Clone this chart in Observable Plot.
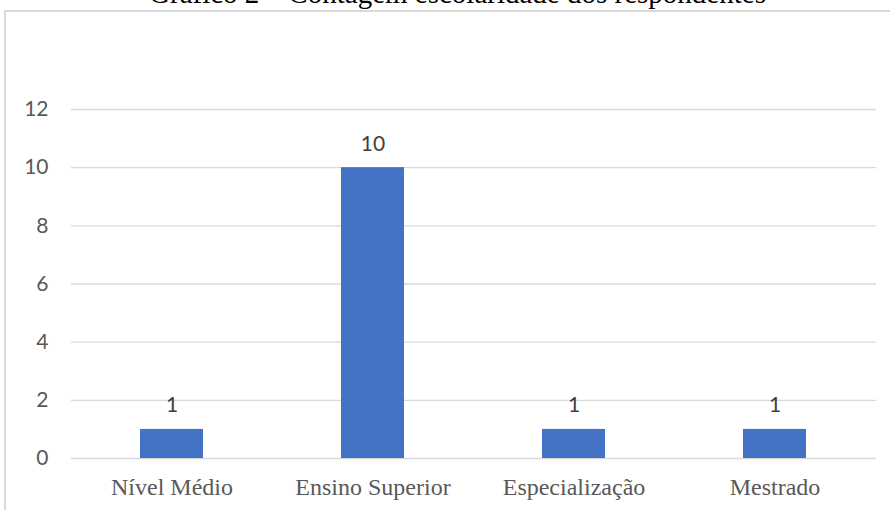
<!DOCTYPE html>
<html>
<head>
<meta charset="utf-8">
<script src="https://cdn.jsdelivr.net/npm/d3@7"></script>
<script src="https://cdn.jsdelivr.net/npm/@observablehq/plot@0.6"></script>
<style>
  html, body { margin: 0; padding: 0; background: #fff; }
  #wrap { position: relative; width: 890px; height: 510px; overflow: hidden; }
  #title {
    position: absolute; left: 0; width: 915px; top: -21px;
    text-align: center; font-family: "Liberation Serif", "Times New Roman", serif;
    font-size: 29px; color: #000; white-space: nowrap; line-height: 29px;
  }
  #box {
    position: absolute; left: 4px; top: 10px; width: 1000px; height: 600px;
    border-left: 2px solid #d9d9d9; border-top: 2px solid #d9d9d9;
  }
  #chart { position: absolute; left: 0; top: 0; }
</style>
</head>
<body>
<div id="wrap">
  <div id="title">Gráfico 2 – Contagem escolaridade dos respondentes</div>
  <div id="box"></div>
  <div id="chart"></div>
</div>
<script>
// Escolaridade dos respondentes (contagem)
const categories = ["Nível Médio", "Ensino Superior", "Especialização", "Mestrado"];
const counts = [1, 10, 1, 1];
const yTicks = [0, 2, 4, 6, 8, 10, 12];

const data = categories.map((c, i) => ({ categoria: c, total: counts[i] }));

const chart = Plot.plot({
  width: 890,
  height: 510,
  marginLeft: 71,
  marginRight: 14,
  marginTop: 109,
  marginBottom: 52,
  style: { background: "transparent", overflow: "visible" },
  x: { domain: categories, paddingInner: 0.686, paddingOuter: 0.343, label: null },
  y: { domain: [0, 12], ticks: yTicks, label: null },
  marks: [
    Plot.gridY(yTicks, { stroke: "#d9d9d9", strokeOpacity: 1, strokeWidth: 1.4 }),
    Plot.axisY({
      ticks: yTicks, tickSize: 0, tickPadding: 23, label: null,
      fontFamily: "Lato, Calibri, sans-serif", fontSize: 21, fill: "#595959"
    }),
    Plot.axisX({
      tickSize: 0, tickPadding: 19, label: null,
      fontFamily: "'Liberation Serif', 'Times New Roman', serif", fontSize: 24, fill: "#595959"
    }),
    Plot.barY(data, { x: "categoria", y: "total", fill: "#4472C4" }),
    Plot.text(data, {
      x: "categoria", y: "total", text: (d) => String(d.total),
      lineAnchor: "bottom", dy: -17,
      fontFamily: "Lato, Calibri, sans-serif", fontSize: 21, fill: "#404040"
    })
  ]
});

document.getElementById("chart").appendChild(chart);
</script>
</body>
</html>
